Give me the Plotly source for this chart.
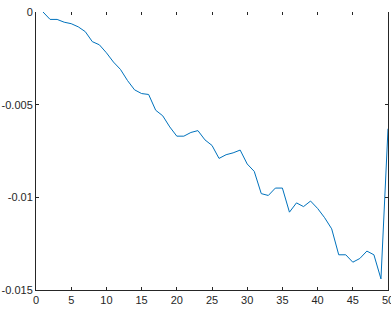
import plotly.graph_objects as go

x_vals = list(range(1, 51))
y_vals = [
    0.0, -0.0004, -0.0004, -0.00055, -0.00063, -0.0008, -0.00106, -0.0016, -0.00177, -0.0022,
    -0.0027, -0.0031, -0.0037, -0.0042, -0.0044, -0.00445, -0.0053, -0.0056, -0.0062, -0.0067,
    -0.0067, -0.0065, -0.0064, -0.0069, -0.0072, -0.0079, -0.0077, -0.0076, -0.00745, -0.0082,
    -0.0086, -0.0098, -0.0099, -0.0095, -0.0095, -0.0108, -0.0103, -0.0105, -0.0102, -0.0106,
    -0.0111, -0.0117, -0.0131, -0.0131, -0.0135, -0.0133, -0.0129, -0.0131, -0.0144, -0.0063,
]
x_ticks = [0, 5, 10, 15, 20, 25, 30, 35, 40, 45, 50]
y_ticks = [0, -0.005, -0.01, -0.015]
y_tick_text = ["0", "-0.005", "-0.01", "-0.015"]

axis_color = "#262626"
fig = go.Figure()
fig.add_trace(go.Scatter(x=x_vals, y=y_vals, mode="lines",
                         line=dict(color="#0072BD", width=1), showlegend=False,
                         hoverinfo="skip"))
fig.add_trace(go.Scatter(x=[None], y=[None], xaxis="x2", showlegend=False, hoverinfo="skip"))

fig.update_layout(
    width=391, height=310,
    margin=dict(l=36, r=3, t=12, b=20, autoexpand=False),
    paper_bgcolor="white", plot_bgcolor="white",
    font=dict(family="Liberation Sans, Arial, sans-serif", size=11, color=axis_color),
    xaxis=dict(range=[0, 50], tickvals=x_ticks, ticks="inside", ticklen=3,
               tickcolor=axis_color, showline=True, linecolor=axis_color, linewidth=1,
               showgrid=False, zeroline=False, tickfont=dict(size=11),
               ticklabeloverflow="allow", automargin=False),
    xaxis2=dict(range=[0, 50], tickvals=x_ticks, ticks="inside", ticklen=3,
                tickcolor=axis_color, overlaying="x", side="top", showline=False,
                showticklabels=False, showgrid=False, zeroline=False, automargin=False),
    yaxis=dict(range=[-0.015, 0], tickvals=y_ticks, ticktext=y_tick_text,
               ticks="inside", ticklen=3, tickcolor=axis_color, showline=True,
               linecolor=axis_color, linewidth=1, mirror="ticks",
               showgrid=False, zeroline=False, tickfont=dict(size=11),
               ticklabeloverflow="allow", automargin=False),
)
fig.write_html("out.html")
